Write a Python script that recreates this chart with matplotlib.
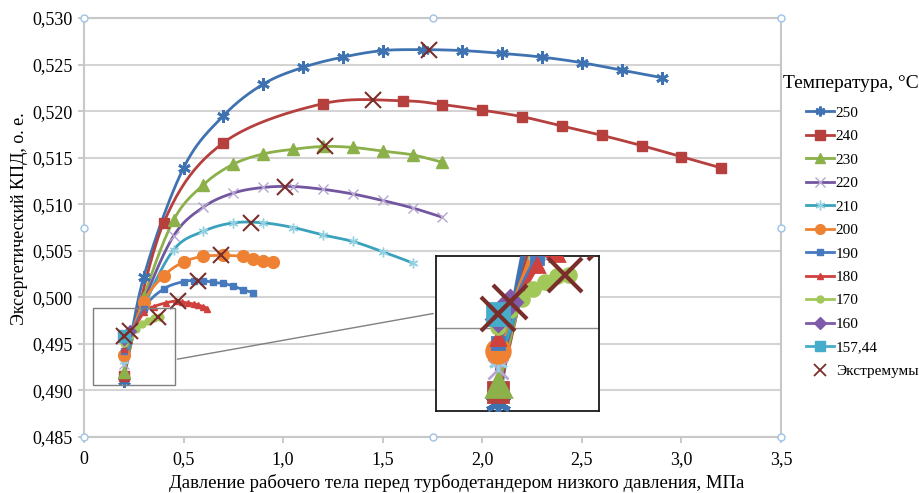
import numpy as np
import matplotlib
matplotlib.use("Agg")
import matplotlib.pyplot as plt
from matplotlib.lines import Line2D
from matplotlib.patches import Rectangle
from matplotlib.ticker import FuncFormatter

plt.rcParams['font.family'] = ['Liberation Serif', 'DejaVu Serif']

# данные (давление, МПа / КПД, о. е.)
x250 = [0.2, 0.3, 0.5, 0.7, 0.9, 1.1, 1.3, 1.5, 1.7, 1.9, 2.1, 2.3, 2.5, 2.7, 2.9]
y250 = [0.4910, 0.5022, 0.5139, 0.5195, 0.5229, 0.5247, 0.5258, 0.5265, 0.5266,
        0.5265, 0.5262, 0.5258, 0.5252, 0.5244, 0.5236]
x240 = [0.2, 0.4, 0.7, 1.2, 1.6, 1.8, 2.0, 2.2, 2.4, 2.6, 2.8, 3.0, 3.2]
y240 = [0.4916, 0.5080, 0.5166, 0.5208, 0.5211, 0.5207, 0.5201, 0.5194, 0.5184,
        0.5174, 0.5163, 0.5151, 0.5139]
x230 = [0.2, 0.3, 0.45, 0.6, 0.75, 0.9, 1.05, 1.2, 1.35, 1.5, 1.65, 1.8]
y230 = [0.4920, 0.5000, 0.5083, 0.5121, 0.5143, 0.5154, 0.5159, 0.5162, 0.5161,
        0.5157, 0.5153, 0.5145]
x220 = [0.2, 0.3, 0.45, 0.6, 0.75, 0.9, 1.05, 1.2, 1.35, 1.5, 1.65, 1.8]
y220 = [0.4928, 0.4995, 0.5066, 0.5097, 0.5112, 0.5118, 0.5119, 0.5116, 0.5111,
        0.5104, 0.5096, 0.5086]
x210 = [0.2, 0.3, 0.45, 0.6, 0.75, 0.9, 1.05, 1.2, 1.35, 1.5, 1.65]
y210 = [0.4932, 0.4990, 0.5051, 0.5071, 0.5080, 0.5080, 0.5075, 0.5067, 0.5060,
        0.5049, 0.5037]
x200 = [0.2, 0.3, 0.4, 0.5, 0.6, 0.7, 0.8, 0.85, 0.9, 0.95]
y200 = [0.4938, 0.4995, 0.5023, 0.5038, 0.5044, 0.5045, 0.5044, 0.5041, 0.5039, 0.5038]
x190 = [0.2, 0.3, 0.4, 0.5, 0.55, 0.6, 0.65, 0.7, 0.75, 0.8, 0.85]
y190 = [0.4942, 0.4988, 0.5009, 0.5017, 0.5018, 0.5018, 0.5016, 0.5015, 0.5012,
        0.5008, 0.5005]
x180 = [0.2, 0.3, 0.35, 0.41, 0.46, 0.49, 0.52, 0.55, 0.57, 0.6, 0.62]
y180 = [0.4945, 0.4984, 0.4990, 0.4994, 0.4996, 0.4995, 0.4994, 0.4993, 0.4992,
        0.4990, 0.4988]
x170 = [0.2, 0.23, 0.26, 0.29, 0.32, 0.35, 0.38]
y170 = [0.4951, 0.4960, 0.4966, 0.4971, 0.4975, 0.4978, 0.4979]
x160 = [0.2, 0.23]
y160 = [0.4955, 0.4964]
x157 = [0.2]
y157 = [0.4958]

ext_x = [1.73, 1.45, 1.21, 1.01, 0.84, 0.69, 0.57, 0.47, 0.37, 0.23, 0.2]
ext_y = [0.5266, 0.5212, 0.5163, 0.5119, 0.5080, 0.5045, 0.5018, 0.4996, 0.4979, 0.4964, 0.4958]

labels = ['250', '240', '230', '220', '210', '200', '190', '180', '170', '160', '157,44']
xs = [x250, x240, x230, x220, x210, x200, x190, x180, x170, x160, x157]
ys = [y250, y240, y230, y220, y210, y200, y190, y180, y170, y160, y157]
colors = ['#3F72B0', '#B5403D', '#8CB04A', '#7356A0', '#3AA2BC', '#EE8232',
          '#4679BE', '#D0403C', '#A3C85A', '#7F5AA8', '#45ADCB']
mcolors = ['#3F72B0', '#B5403D', '#8CB04A', '#B7A6D2', '#93D1E0', '#EE8232',
           '#4679BE', '#D0403C', '#A3C85A', '#7F5AA8', '#45ADCB']
markers = [(6, 2, 0), 's', '^', 'x', (6, 2, 0), 'o', 's', '^', 'o', 'D', 's']
msizes = [9, 7, 9, 7, 7, 8.5, 4.5, 5, 5, 6, 8]
mews = [2, 1, 1, 1, 1, 1, 1, 1, 1, 1, 1]
ext_color = '#7A2E2C'


def smooth(x, y, n=24):
    # сглаживание линии как в Excel (Катмулл-Ром)
    p = np.column_stack([x, y]).astype(float)
    if len(p) < 3:
        return p[:, 0], p[:, 1]
    P = np.vstack([p[0], p, p[-1]])
    t = np.linspace(0, 1, n, endpoint=False)[:, None]
    h00 = 2 * t**3 - 3 * t**2 + 1
    h10 = t**3 - 2 * t**2 + t
    h01 = -2 * t**3 + 3 * t**2
    h11 = t**3 - t**2
    out = []
    for i in range(1, len(P) - 2):
        m1 = (P[i + 1] - P[i - 1]) / 2
        m2 = (P[i + 2] - P[i]) / 2
        out.append(h00 * P[i] + h10 * m1 + h01 * P[i + 1] + h11 * m2)
    out.append(p[-1:])
    out = np.vstack(out)
    return out[:, 0], out[:, 1]


def draw(a, k):
    for i in range(len(xs)):
        sx, sy = smooth(xs[i], ys[i])
        a.plot(sx, sy, color=colors[i], lw=2 * k, zorder=3, solid_capstyle='round')
        a.plot(xs[i], ys[i], ls='none', marker=markers[i], ms=msizes[i] * k,
               color=mcolors[i], mec=mcolors[i], mew=mews[i] * k, zorder=4)
    a.plot(ext_x, ext_y, ls='none', marker='x', ms=12 * k, color=ext_color,
           mew=1.5 * k, zorder=5)


fig = plt.figure(figsize=(9.19, 4.93), dpi=100)
ax = fig.add_axes([84 / 919, 1 - 437 / 493, 697 / 919, 419 / 493])
draw(ax, 1)

ax.set_xlim(0, 3.5)
ax.set_ylim(0.485, 0.530)
ax.set_xticks(np.arange(0, 3.51, 0.5))
ax.set_yticks(np.arange(0.485, 0.5301, 0.005))
ax.xaxis.set_major_formatter(FuncFormatter(lambda v, p: '0' if v == 0 else f'{v:.1f}'.replace('.', ',')))
ax.yaxis.set_major_formatter(FuncFormatter(lambda v, p: f'{v:.3f}'.replace('.', ',')))
ax.grid(axis='y', color='#D4D4D4', lw=1.5)
ax.set_axisbelow(True)
for s in ax.spines.values():
    s.set_color('#C8C8C8')
    s.set_linewidth(1.5)
ax.tick_params(axis='both', colors='#C0C0C0', labelcolor='black', labelsize=13,
               length=4, width=1.2)
ax.tick_params(axis='x', pad=6)
ax.tick_params(axis='y', pad=4)
ax.set_xlabel('Давление рабочего тела перед турбодетандером низкого давления, МПа', fontsize=13.5)
ax.set_ylabel('Эксергетический КПД, о. е.', fontsize=13)
ax.xaxis.set_label_coords(0.534, -0.088)
ax.yaxis.set_label_coords(-0.08, 0.52)

# рамка увеличиваемой области и выноска
bx0, bx1, by0, by1 = 0.045, 0.455, 0.49055, 0.4989
ax.add_patch(Rectangle((bx0, by0), bx1 - bx0, by1 - by0, fill=False,
                       ec='#7F7F7F', lw=1, zorder=6))
ins = ax.inset_axes([0.505, 0.062, 0.234, 0.370])
draw(ins, 2)
ins.set_xlim(bx0, bx1)
ins.set_ylim(by0, by1)
ins.set_xticks([])
ins.set_yticks([0.495])
ins.tick_params(left=False, labelleft=False)
ins.grid(axis='y', color='#8C8C8C', lw=1)
ins.set_facecolor('white')
for s in ins.spines.values():
    s.set_color('#1A1A1A')
    s.set_linewidth(1.3)
ins.set_zorder(7)
y_from = by0 + 0.33 * (by1 - by0)
ax.annotate('', xy=(0, 0.632), xycoords=ins.transAxes, xytext=(bx1, y_from),
            textcoords='data', arrowprops=dict(arrowstyle='-', color='#808080', lw=1),
            zorder=6)

# маркеры выделения области построения
for hx, hy in [(0, 0), (0.5, 0), (1, 0), (0, 0.5), (1, 0.5), (0, 1), (0.5, 1), (1, 1)]:
    ax.plot(hx, hy, 'o', ms=5, mfc='white', mec='#9DC3E6', mew=1,
            transform=ax.transAxes, clip_on=False, zorder=8)

# легенда
handles = []
for i in range(len(labels)):
    handles.append(Line2D([], [], color=colors[i], lw=2, marker=markers[i],
                          ms=min(msizes[i], 7), mfc=mcolors[i], mec=mcolors[i], mew=mews[i]))
handles.append(Line2D([], [], ls='none', marker='x', ms=8, color=ext_color, mew=1.3))
fig.text(783 / 919, 1 - 83 / 493, 'Температура, °C', fontsize=14, va='center', ha='left')
fig.legend(handles, labels + ['Экстремумы'], loc='upper left',
           bbox_to_anchor=(806 / 919, 1 - 106 / 493), frameon=False, fontsize=11,
           handlelength=1.8, handletextpad=0.15, labelspacing=0.64,
           borderpad=0, borderaxespad=0)

fig.savefig('out.png', dpi=100)
